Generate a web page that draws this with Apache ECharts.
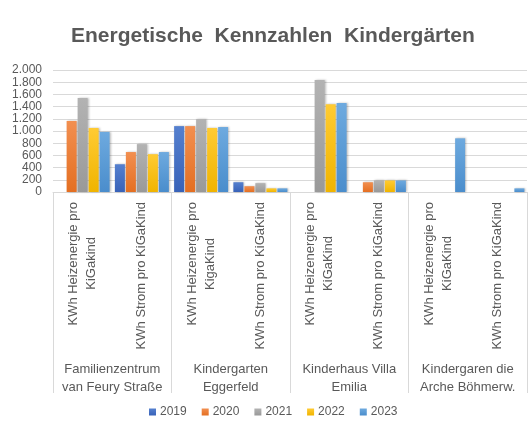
<!DOCTYPE html>
<html>
<head>
<meta charset="utf-8">
<style type="text/css">
html, body { margin: 0; padding: 0; background: #fff; }
.chart { width: 528px; height: 431px; }
</style>
<script type="text/javascript" src="https://cdn.jsdelivr.net/npm/echarts@6/dist/echarts.min.js"></script>
</head>
<body>
<div class="chart" id="chart"></div>
<script type="text/javascript">
var groups = ['Familienzentrum\nvan Feury Straße', 'Kindergarten\nEggerfeld', 'Kinderhaus Villa\nEmilia', 'Kindergaren die\nArche Böhmerw.'];
var subLabels = [
	'KWh Heizenergie pro\nKiGakind', 'KWh Strom pro KiGaKind',
	'KWh Heizenergie pro\nKigaKind', 'KWh Strom pro KiGaKind',
	'KWh Heizenergie pro\nKiGaKind', 'KWh Strom pro KiGaKind',
	'KWh Heizenergie pro\nKiGaKind', 'KWh Strom pro KiGaKind'
];
var years = ['2019', '2020', '2021', '2022', '2023'];
var y2019 = [null, 455, 1080, 160, null, null, null, null];
var y2020 = [1165, 655, 1080, 95, null, 160, null, null];
var y2021 = [1540, 785, 1195, 145, 1835, 190, null, null];
var y2022 = [1050, 620, 1050, 60, 1440, 190, null, null];
var y2023 = [985, 655, 1065, 60, 1460, 190, 880, 60];
var yTicks = { min: 0, max: 2000, step: 200 };

var chart = echarts.init(document.getElementById('chart'));
var txt = '#595959', line = '#d9d9d9', font = 'Liberation Sans';

// top / bottom colour of each bar gradient
var colors = [
	['#5580cf', '#3862b8'],
	['#f28f50', '#e46f22'],
	['#b3b3b3', '#999999'],
	['#ffcb33', '#f0b400'],
	['#6eaadf', '#4a8dcc']
];
var values = [y2019, y2020, y2021, y2022, y2023];

function grad(c) {
	return new echarts.graphic.LinearGradient(0, 0, 0, 1, [
		{ offset: 0, color: c[0] }, { offset: 1, color: c[1] }
	]);
}

function thousands(v) {
	return String(v).replace(/\B(?=(\d{3})+(?!\d))/g, '.');
}

// centre the lines of a rotated (right aligned) label against each other
var ctx = document.createElement('canvas').getContext('2d');
ctx.font = '13px ' + font;
function centred(v) {
	var parts = v.split('\n');
	if (parts.length < 2) return v;
	var w = parts.map(function (s) { return ctx.measureText(s).width; });
	var max = Math.max.apply(null, w);
	return parts.map(function (s, i) {
		var pad = Math.round((max - w[i]) / 2);
		return pad ? '{p' + pad + '|' + s + '}' : '{n|' + s + '}';
	}).join('\n');
}
var rich = { n: { fontSize: 13, lineHeight: 18, color: txt } };
for (var k = 1; k < 120; k++) {
	rich['p' + k] = { fontSize: 13, lineHeight: 18, color: txt, padding: [0, k, 0, 0] };
}

var series = years.map(function (y, i) {
	return {
		name: y,
		type: 'bar',
		data: values[i],
		barWidth: 10,
		barGap: '10%',
		itemStyle: {
			color: grad(colors[i]),
			shadowColor: 'rgba(0,0,0,0.25)',
			shadowBlur: 2,
			shadowOffsetX: 1
		}
	};
});

chart.setOption({
	animation: false,
	textStyle: { fontFamily: font },
	color: colors.map(function (c) { return c[1]; }),
	title: {
		text: 'Energetische  Kennzahlen  Kindergärten',
		left: 66,
		top: 21,
		textStyle: { color: txt, fontSize: 21, fontWeight: 'bold', fontFamily: font }
	},
	legend: {
		data: years,
		bottom: 8,
		left: 144,
		itemWidth: 7,
		itemHeight: 7,
		itemGap: 15,
		icon: 'rect',
		textStyle: { color: txt, fontSize: 12, padding: [0, 0, 0, -1] }
	},
	grid: { left: 53, right: 1, top: 70, bottom: 239 },
	xAxis: [{
		type: 'category',
		data: subLabels,
		axisLine: { lineStyle: { color: line } },
		axisTick: { show: false },
		axisLabel: {
			interval: 0,
			rotate: 90,
			margin: 10,
			color: txt,
			fontSize: 13,
			lineHeight: 18,
			formatter: centred,
			rich: rich
		}
	}, {
		type: 'category',
		data: groups,
		position: 'bottom',
		axisLine: { show: false },
		axisTick: { show: true, length: 201, lineStyle: { color: line } },
		axisLabel: {
			interval: 0,
			margin: 168,
			color: txt,
			fontSize: 13,
			lineHeight: 18
		}
	}],
	yAxis: {
		type: 'value',
		min: yTicks.min,
		max: yTicks.max,
		interval: yTicks.step,
		axisLine: { show: false },
		axisTick: { show: false },
		splitLine: { lineStyle: { color: line } },
		axisLabel: { color: txt, fontSize: 12, margin: 11, formatter: thousands }
	},
	series: series
});
</script>
</body>
</html>
